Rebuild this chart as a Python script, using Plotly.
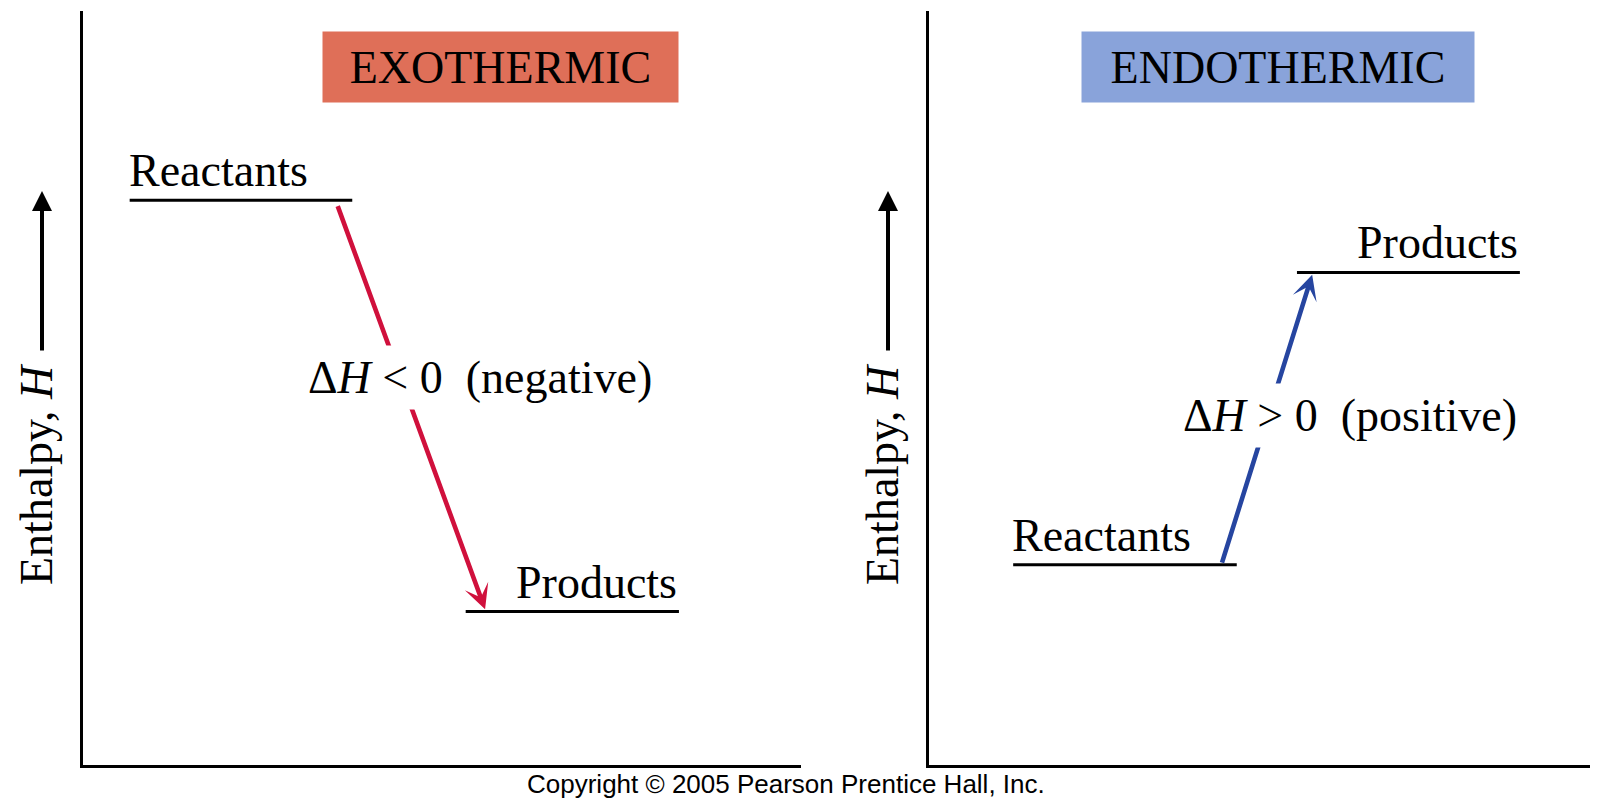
import plotly.graph_objects as go

# enthalpy diagram values (arbitrary units, 0..100 on each panel)
panels = ["EXOTHERMIC", "ENDOTHERMIC"]
panel_colors = ["#DF6F58", "#89A3DA"]
arrow_colors = ["#D0103C", "#2645A0"]
reactant_H = [74.9, 26.5]
product_H = [20.3, 65.3]
reactant_x = [[6.5, 37.5], [12.8, 46.6]]
product_x = [[53.3, 83.0], [55.7, 89.4]]
arrow_tail = [[35.4, 74.3], [44.3, 26.6]]
arrow_head = [[56.0, 20.6], [58.0, 65.0]]
dh_signs = ["&lt; 0", "&gt; 0"]
dh_words = ["(negative)", "(positive)"]
dh_pos = [[55.3, 51.4], [63.7, 46.3]]

# page is 1600x810, body keeps its 8px margin
OFF = 8
W, H = 1600 - 2 * OFF, 810 - 2 * OFF
SERIF = "Liberation Serif"
BIG = 46


def px(x):
    return (x - OFF) / W


def py(y):
    return 1 - (y - OFF) / H


fig = go.Figure()

ax_dom = [[px(83), px(801)], [px(928.5), px(1590)]]
ydom = [py(764.5), py(11)]

annotations = []
for i in range(2):
    xa = "x" if i == 0 else "x2"
    ya = "y" if i == 0 else "y2"
    # energy levels
    fig.add_trace(go.Scatter(x=reactant_x[i], y=[reactant_H[i]] * 2, mode="lines",
                             line=dict(color="black", width=3), xaxis=xa, yaxis=ya,
                             showlegend=False, hoverinfo="skip"))
    fig.add_trace(go.Scatter(x=product_x[i], y=[product_H[i]] * 2, mode="lines",
                             line=dict(color="black", width=3), xaxis=xa, yaxis=ya,
                             showlegend=False, hoverinfo="skip"))
    # delta H arrow
    annotations.append(dict(x=arrow_head[i][0], y=arrow_head[i][1], ax=arrow_tail[i][0], ay=arrow_tail[i][1],
                            xref=xa, yref=ya, axref=xa, ayref=ya, text="", showarrow=True,
                            arrowhead=3, arrowsize=0.9, arrowwidth=4.6, arrowcolor=arrow_colors[i]))
    # level labels
    annotations.append(dict(x=reactant_x[i][0], y=reactant_H[i],
                            xref=xa, yref=ya, text="Reactants", showarrow=False,
                            xanchor="left", yanchor="bottom", yshift=2, xshift=-3,
                            font=dict(family=SERIF, size=BIG, color="black")))
    annotations.append(dict(x=product_x[i][1], y=product_H[i],
                            xref=xa, yref=ya, text="Products", showarrow=False,
                            xanchor="right", yanchor="bottom", yshift=2,
                            font=dict(family=SERIF, size=BIG, color="black")))
    # title box
    annotations.append(dict(x=[58.2, 52.9][i], y=92.6, xref=xa, yref=ya, text=panels[i],
                            showarrow=False, bgcolor=panel_colors[i],
                            width=[351, 388][i], height=66, borderpad=2,
                            font=dict(family=SERIF, size=BIG, color="black")))
    # delta H label
    annotations.append(dict(x=dh_pos[i][0], y=dh_pos[i][1], xref=xa, yref=ya,
                            text="Δ<i>H</i> " + dh_signs[i] + "\u00a0\u00a0" + dh_words[i],
                            showarrow=False, bgcolor="white", borderpad=6,
                            font=dict(family=SERIF, size=BIG, color="black")))
    # y axis title with arrow
    xt = [37, 883][i]
    annotations.append(dict(x=px(xt), y=py(474), xref="paper", yref="paper",
                            xanchor="center", yanchor="middle",
                            text="Enthalpy, <i>H</i>", textangle=-90, showarrow=False,
                            font=dict(family=SERIF, size=BIG, color="black")))
    annotations.append(dict(x=px(xt + 5), y=py(191), xref="paper", yref="paper", ax=0, ay=161,
                            text="", showarrow=True, arrowhead=2, arrowsize=1.0,
                            arrowwidth=4, arrowcolor="black"))

annotations.append(dict(x=px(786), y=py(784), xref="paper", yref="paper",
                        xanchor="center", yanchor="middle", borderpad=0,
                        text="Copyright © 2005 Pearson Prentice Hall, Inc.", showarrow=False,
                        font=dict(family="Liberation Sans", size=26, color="black")))

axis_style = dict(showline=True, linecolor="black", linewidth=3, showgrid=False,
                  zeroline=False, showticklabels=False, ticks="", range=[0, 100], fixedrange=True)

fig.update_layout(
    width=W, height=H,
    margin=dict(l=0, r=0, t=0, b=0),
    plot_bgcolor="white", paper_bgcolor="white",
    xaxis=dict(domain=ax_dom[0], anchor="y", **axis_style),
    yaxis=dict(domain=ydom, anchor="x", **axis_style),
    xaxis2=dict(domain=ax_dom[1], anchor="y2", **axis_style),
    yaxis2=dict(domain=ydom, anchor="x2", **axis_style),
    annotations=annotations,
    showlegend=False,
)

fig.write_html("out.html")
